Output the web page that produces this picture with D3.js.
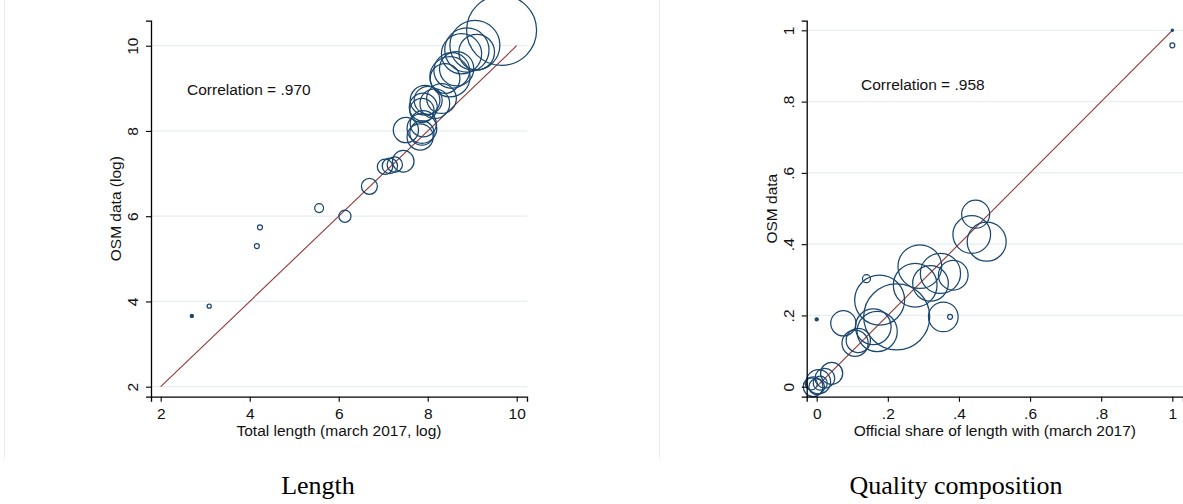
<!DOCTYPE html>
<html>
<head>
<meta charset="utf-8">
<script src="https://cdn.jsdelivr.net/npm/d3@7"></script>
<style>
  body { margin: 0; background: #fff; }
  svg { display: block; }
  .tick-label, .axis-title, .note { font-family: "Liberation Sans", Arial, Helvetica, sans-serif; font-size: 15.5px; fill: #111; }
  .caption { font-family: "Liberation Serif", "DejaVu Serif", serif; font-size: 26px; fill: #000; }
</style>
</head>
<body>
<div id="chart"></div>
<script>
const WIDTH = 1183,
  HEIGHT = 504,
  MARKER_COLOR = "#1a476f",
  FIT_COLOR = "#933636",
  GRID_COLOR = "#e6eef1";

// Length panel (log total length vs log OSM length), marker weight
const lenX = [2.70, 3.09, 4.16, 4.23, 5.56, 6.14, 6.69, 7.04, 7.15, 7.26, 7.45, 7.51, 7.83, 7.87, 7.87, 7.90, 7.87, 7.90, 7.94, 8.01, 8.16, 8.31, 8.39, 8.50, 8.54, 8.65, 8.76, 8.88, 9.10, 9.06, 9.66];
const lenY = [3.66, 3.89, 5.30, 5.74, 6.19, 6.00, 6.70, 7.16, 7.18, 7.21, 7.29, 8.02, 7.86, 7.95, 8.06, 8.17, 8.48, 8.56, 8.72, 8.72, 8.64, 8.76, 9.23, 9.27, 9.42, 9.46, 9.81, 9.90, 9.85, 10.01, 10.36];
const lenW = [0.2, 0.35, 0.5, 0.5, 1.6, 3, 5.2, 4.8, 4.8, 4.8, 9.5, 13, 14, 12, 18, 14, 12, 16, 18, 16, 18, 18, 18, 33, 26, 24, 33, 40, 26, 51, 100];
const lenXTicks = [2, 4, 6, 8, 10];
const lenYTicks = [2, 4, 6, 8, 10];

// Quality composition panel (official share vs OSM share)
const qualX = [1.0, 1.0, 0.0, 0.375, 0.14, 0.447, 0.436, 0.478, 0.29, 0.277, 0.32, 0.348, 0.384, 0.356, 0.177, 0.225, 0.159, 0.17, 0.075, 0.108, 0.117, 0.042, 0.023, 0.005, -0.01, 0.0, 0.01, -0.015];
const qualY = [1.0, 0.958, 0.189, 0.196, 0.303, 0.484, 0.427, 0.407, 0.337, 0.285, 0.29, 0.318, 0.313, 0.196, 0.243, 0.196, 0.168, 0.155, 0.178, 0.122, 0.13, 0.0375, 0.024, 0.014, 0.0, 0.0, 0.01, 0.008];
const qualW = [0.1, 0.5, 0.2, 0.5, 1.3, 16, 29, 31, 39, 39, 26, 33, 18, 18, 51, 89, 26, 33, 13, 14, 12, 10, 8, 12, 8, 5, 4, 3];
const qualTicks = [0, 0.2, 0.4, 0.6, 0.8, 1];

function shareFormat(v) {
  // Stata style: ".2" rather than "0.2"
  if (v === 0 || v === 1) return String(v);
  return String(v).replace(/^0/, "");
}

var svg = d3
  .select("#chart")
  .append("svg")
  .attr("width", WIDTH)
  .attr("height", HEIGHT);

// faint frame around the first graph
svg.append("line").attr("x1", 4.5).attr("x2", 4.5).attr("y1", 0).attr("y2", 459)
  .attr("stroke", "#ececec").attr("stroke-width", 1);
svg.append("line").attr("x1", 659.5).attr("x2", 659.5).attr("y1", 0).attr("y2", 459)
  .attr("stroke", "#ececec").attr("stroke-width", 1);

var radius = d3.scaleSqrt().domain([0, 100]).range([0, 35]);

function draw_panel(p) {
  var g = svg.append("g");
  var x = d3.scaleLinear().domain(p.xDomain).range([p.left, p.right]);
  var y = d3.scaleLinear().domain(p.yDomain).range([p.bottom, p.top]);

  // gridlines
  g.selectAll(".grid")
    .data(p.yTicks)
    .enter()
    .append("line")
    .attr("x1", p.left)
    .attr("x2", p.right)
    .attr("y1", d => y(d))
    .attr("y2", d => y(d))
    .attr("stroke", GRID_COLOR)
    .attr("stroke-width", 1.2);

  // fitted 45 degree line
  g.append("line")
    .attr("x1", x(p.fit[0]))
    .attr("y1", y(p.fit[0]))
    .attr("x2", x(p.fit[1]))
    .attr("y2", y(p.fit[1]))
    .attr("stroke", FIT_COLOR)
    .attr("stroke-width", 1.1);

  var pts = p.xs.map((v, i) => ({ x: v, y: p.ys[i], w: p.ws[i] }));
  g.selectAll(".pt")
    .data(pts)
    .enter()
    .append("circle")
    .attr("cx", d => x(d.x))
    .attr("cy", d => y(d.y))
    .attr("r", d => Math.max(radius(d.w), 1))
    .attr("fill", d => (radius(d.w) < 1.6 ? MARKER_COLOR : "none"))
    .attr("stroke", MARKER_COLOR)
    .attr("stroke-width", 1.25);

  // axes
  var xAxis = d3.axisBottom(x).tickValues(p.xTicks).tickSize(5).tickFormat(p.fmt);
  var yAxis = d3.axisLeft(y).tickValues(p.yTicks).tickSize(5).tickFormat(p.fmt);

  var gx = g.append("g").attr("transform", "translate(0," + p.bottom + ")").call(xAxis);
  var gy = g.append("g").attr("transform", "translate(" + p.left + ",0)").call(yAxis);
  [gx, gy].forEach(a => {
    a.select(".domain").attr("stroke", "#000").attr("stroke-width", 1.3);
    a.selectAll(".tick line").attr("stroke", "#000").attr("stroke-width", 1.1);
  });
  gx.selectAll(".tick text")
    .attr("class", "tick-label")
    .attr("y", 0)
    .attr("dy", null)
    .attr("transform", "translate(0,22.5)");
  gy.selectAll(".tick text")
    .attr("class", "tick-label")
    .attr("x", 0)
    .attr("dy", null)
    .attr("text-anchor", "middle")
    .attr("transform", "translate(-13,0) rotate(-90)");

  g.append("text")
    .attr("class", "axis-title")
    .attr("x", (p.left + p.right) / 2)
    .attr("y", 436)
    .attr("text-anchor", "middle")
    .text(p.xTitle);
  g.append("text")
    .attr("class", "axis-title")
    .attr("text-anchor", "middle")
    .attr("transform", "translate(" + p.yTitleX + "," + (p.top + p.bottom) / 2 + ") rotate(-90)")
    .text(p.yTitle);

  g.append("text")
    .attr("class", "note")
    .attr("x", p.noteX)
    .attr("y", p.noteY)
    .text(p.note);

  svg.append("text")
    .attr("class", "caption")
    .attr("x", p.captionX)
    .attr("y", 494)
    .attr("text-anchor", "middle")
    .text(p.caption);
}

draw_panel({
  xs: lenX, ys: lenY, ws: lenW,
  xDomain: [1.782, 10.231], yDomain: [1.765, 10.587],
  left: 151, right: 527, top: 20.7, bottom: 396.7,
  xTicks: lenXTicks, yTicks: lenYTicks, fmt: d3.format("d"),
  fit: [2, 10],
  xTitle: "Total length (march 2017, log)",
  yTitle: "OSM data (log)", yTitleX: 121,
  note: "Correlation = .970", noteX: 187, noteY: 95,
  caption: "Length", captionX: 318
});

draw_panel({
  xs: qualX, ys: qualY, ws: qualW,
  xDomain: [-0.0281, 1.03], yDomain: [-0.028, 1.027],
  left: 806.7, right: 1183, top: 20.7, bottom: 396.7,
  xTicks: qualTicks, yTicks: qualTicks, fmt: shareFormat,
  fit: [0, 1],
  xTitle: "Official share of length with (march 2017)",
  yTitle: "OSM data", yTitleX: 777,
  note: "Correlation = .958", noteX: 861, noteY: 90,
  caption: "Quality composition", captionX: 956
});
</script>
</body>
</html>
